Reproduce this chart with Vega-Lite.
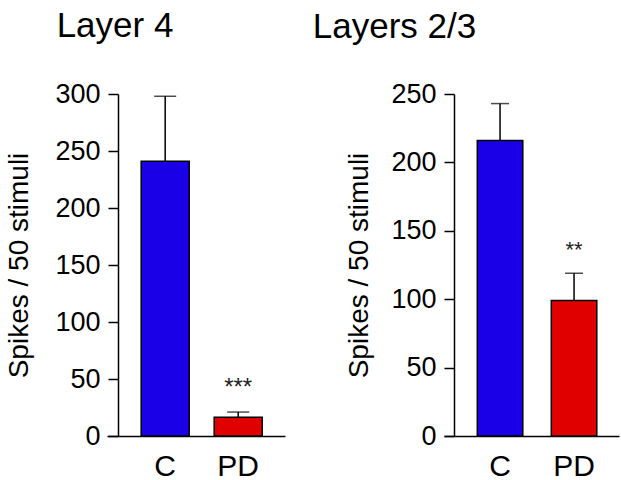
{
  "$schema": "https://vega.github.io/schema/vega-lite/v6.json",
  "background": "white",
  "padding": {"left": 5, "top": 9, "right": 4, "bottom": 0},
  "bounds": "flush",
  "spacing": 159,
  "config": {
    "font": "Liberation Sans",
    "view": {"stroke": null},
    "axis": {
      "grid": false,
      "domainColor": "black",
      "tickColor": "black",
      "labelColor": "black",
      "titleColor": "black",
      "domainWidth": 1.5,
      "tickWidth": 1.5,
      "labelFont": "Liberation Sans",
      "titleFont": "Liberation Sans",
      "titleFontWeight": "normal"
    },
    "title": {"font": "Liberation Sans", "fontWeight": "normal", "fontSize": 35, "color": "black"}
  },
  "datasets": {
    "layer4": [
      {"group": "C", "value": 241, "upper": 298, "sig": ""},
      {"group": "PD", "value": 16.5, "upper": 21, "sig": "***"}
    ],
    "layer23": [
      {"group": "C", "value": 216, "upper": 243, "sig": ""},
      {"group": "PD", "value": 99, "upper": 119, "sig": "**"}
    ]
  },
  "hconcat": [
    {
      "width": 178,
      "height": 342,
      "title": {"text": "Layer 4", "anchor": "middle", "dx": -81, "offset": 16},
      "data": {"name": "layer4"},
      "encoding": {
        "x": {
          "field": "group", "type": "nominal", "sort": ["C", "PD"],
          "scale": {"paddingInner": 0.342, "paddingOuter": 0.39, "align": 0.6},
          "axis": {"title": null, "labelAngle": 0, "labelFontSize": 30, "ticks": false, "labelPadding": 15}
        }
      },
      "layer": [
        {
          "mark": {"type": "rule", "color": "black", "strokeWidth": 1.5},
          "encoding": {
            "y": {"field": "value", "type": "quantitative"},
            "y2": {"field": "upper"}
          }
        },
        {
          "mark": {"type": "tick", "color": "black", "thickness": 1.5, "size": 22},
          "encoding": {"y": {"field": "upper", "type": "quantitative"}}
        },
        {
          "mark": {"type": "bar", "stroke": "black", "strokeWidth": 1.5, "opacity": 1},
          "encoding": {
            "y": {
              "field": "value", "type": "quantitative",
              "scale": {"domain": [0, 300], "nice": false},
              "axis": {
                "values": [0, 25, 50, 75, 100, 125, 150, 175, 200, 225, 250, 275, 300],
                "labelExpr": "datum.value % 50 === 0 ? datum.label : ''",
                "tickSize": 10, "labelFontSize": 27, "labelPadding": 8,
                "offset": -11,
                "title": "Spikes / 50 stimuli", "titleFontSize": 28, "titlePadding": 21
              }
            },
            "color": {
              "field": "group", "type": "nominal",
              "scale": {"domain": ["C", "PD"], "range": ["#1a00e6", "#e00000"]},
              "legend": null
            }
          }
        },
        {
          "mark": {"type": "text", "fontSize": 24, "color": "#222222", "baseline": "middle", "dy": -24},
          "encoding": {
            "y": {"field": "upper", "type": "quantitative"},
            "text": {"field": "sig"}
          }
        }
      ]
    },
    {
      "width": 175,
      "height": 342,
      "title": {"text": "Layers 2/3", "anchor": "middle", "dx": -137, "dy": -9, "offset": 16},
      "data": {"name": "layer23"},
      "encoding": {
        "x": {
          "field": "group", "type": "nominal", "sort": ["C", "PD"],
          "scale": {"paddingInner": 0.385, "paddingOuter": 0.375, "align": 0.6},
          "axis": {"title": null, "labelAngle": 0, "labelFontSize": 30, "ticks": false, "labelPadding": 15}
        }
      },
      "layer": [
        {
          "mark": {"type": "rule", "color": "black", "strokeWidth": 1.5},
          "encoding": {
            "y": {"field": "value", "type": "quantitative"},
            "y2": {"field": "upper"}
          }
        },
        {
          "mark": {"type": "tick", "color": "black", "thickness": 1.5, "size": 18},
          "encoding": {"y": {"field": "upper", "type": "quantitative"}}
        },
        {
          "mark": {"type": "bar", "stroke": "black", "strokeWidth": 1.5, "opacity": 1},
          "encoding": {
            "y": {
              "field": "value", "type": "quantitative",
              "scale": {"domain": [0, 250], "nice": false},
              "axis": {
                "values": [0, 25, 50, 75, 100, 125, 150, 175, 200, 225, 250],
                "labelExpr": "datum.value % 50 === 0 ? datum.label : ''",
                "tickSize": 10, "labelFontSize": 27, "labelPadding": 8,
                "offset": -10,
                "title": "Spikes / 50 stimuli", "titleFontSize": 28, "titlePadding": 17
              }
            },
            "color": {
              "field": "group", "type": "nominal",
              "scale": {"domain": ["C", "PD"], "range": ["#1a00e6", "#e00000"]},
              "legend": null
            }
          }
        },
        {
          "mark": {"type": "text", "fontSize": 22, "color": "#222222", "baseline": "middle", "dy": -23},
          "encoding": {
            "y": {"field": "upper", "type": "quantitative"},
            "text": {"field": "sig"}
          }
        }
      ]
    }
  ]
}
